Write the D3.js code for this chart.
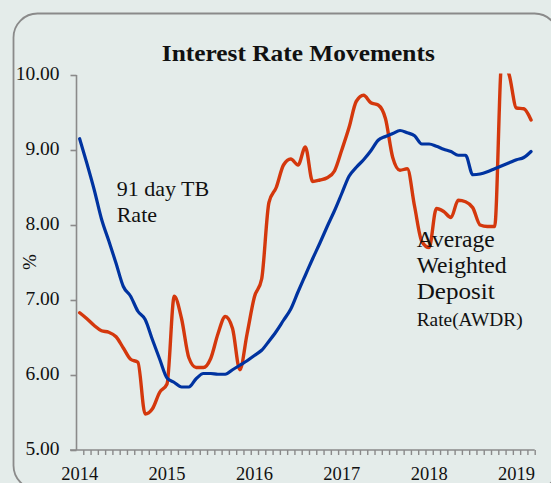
<!DOCTYPE html>
<html>
<head>
<meta charset="utf-8">
<script src="https://cdn.jsdelivr.net/npm/d3@7"></script>
<style>
  html, body { margin: 0; padding: 0; background: #e4ecea; }
  svg { display: block; }
  text { font-family: "Liberation Serif", "Times New Roman", serif; fill: #111; }
</style>
</head>
<body>
<svg id="chart" width="551" height="483"></svg>
<script>
// Monthly categories Jan 2014 .. Mar 2019
const months = [];
for (let y = 2014; y <= 2019; y++) for (let m = 1; m <= 12; m++) {
  if (y === 2019 && m > 3) break;
  months.push(y + "-" + String(m).padStart(2, "0"));
}
const yearLabels = ["2014", "2015", "2016", "2017", "2018", "2019"];
const yTicks = [5, 6, 7, 8, 9, 10];

// 91 day Treasury Bill rate (%)
const tbRate = [
  9.15, 8.82, 8.47, 8.08, 7.79, 7.49, 7.18, 7.05, 6.85, 6.74, 6.47, 6.21,
  5.96, 5.90, 5.84, 5.84, 5.95, 6.02, 6.02, 6.01, 6.01, 6.07, 6.13, 6.19,
  6.26, 6.33, 6.45, 6.58, 6.73, 6.88, 7.11, 7.33, 7.55, 7.76, 7.98, 8.19,
  8.42, 8.65, 8.77, 8.87, 8.99, 9.13, 9.18, 9.22, 9.26, 9.23, 9.19, 9.08,
  9.08, 9.05, 9.01, 8.98, 8.93, 8.93, 8.67, 8.68, 8.71, 8.75, 8.79, 8.83,
  8.87, 8.90, 8.98
];
// Average Weighted Deposit Rate (%)
const awdr = [
  6.83, 6.75, 6.66, 6.59, 6.57, 6.51, 6.36, 6.21, 6.17, 5.48, 5.55, 5.77,
  5.88, 7.05, 6.75, 6.23, 6.10, 6.10, 6.22, 6.55, 6.78, 6.62, 6.07, 6.55,
  7.04, 7.28, 8.30, 8.50, 8.80, 8.88, 8.80, 9.04, 8.58, 8.60, 8.63, 8.72,
  9.00, 9.30, 9.65, 9.73, 9.63, 9.60, 9.42, 8.90, 8.73, 8.75, 8.25, 7.78,
  7.70, 8.22, 8.18, 8.10, 8.33, 8.31, 8.23, 8.00, 7.98, 7.98, 10.20, 10.00,
  9.56, 9.55, 9.40
];

const svg = d3.select("#chart");

// Rounded frame
svg.append("rect")
  .attr("x", 13.5).attr("y", 13.5)
  .attr("width", 545).attr("height", 476)
  .attr("rx", 24).attr("ry", 24)
  .attr("fill", "none").attr("stroke", "#8a8a8a").attr("stroke-width", 1.8);

const x = d3.scaleLinear().domain([0, months.length]).range([76, 534.7]);
const y = d3.scaleLinear().domain([5, 10]).range([450, 75]);

// Title
svg.append("text")
  .attr("x", 298.3).attr("y", 60.7)
  .attr("text-anchor", "middle")
  .attr("font-weight", "bold")
  .attr("font-size", 24)
  .attr("textLength", 273).attr("lengthAdjust", "spacingAndGlyphs")
  .text("Interest Rate Movements");

// Y axis
const yAxis = d3.axisLeft(y).tickValues(yTicks).tickFormat(d3.format(".2f"))
  .tickSize(6).tickPadding(11);
const gy = svg.append("g").attr("transform", "translate(76.5,0)").call(yAxis);
gy.select(".domain").attr("stroke", "#8a8a8a").attr("stroke-width", 1.6)
  .attr("d", `M0,${y(10)}V${y(5)}`);
gy.selectAll(".tick line").attr("stroke", "#8a8a8a").attr("stroke-width", 1.6);
gy.selectAll(".tick text")
  .attr("font-family", "Liberation Serif, serif").attr("font-size", 19.5)
  .attr("fill", "#111").attr("dy", "0.22em");

// Y label
svg.append("text")
  .attr("transform", "translate(36,262) rotate(-90)")
  .attr("text-anchor", "middle")
  .attr("font-size", 19)
  .text("%");

// X axis with monthly ticks at category boundaries
const xAxis = d3.axisBottom(x).tickValues(d3.range(1, months.length + 1))
  .tickSize(5).tickFormat("");
const gx = svg.append("g").attr("transform", "translate(0,450)").call(xAxis);
gx.select(".domain").attr("stroke", "#8a8a8a").attr("stroke-width", 1.6)
  .attr("d", `M70,0H${x(months.length)}`);
gx.selectAll(".tick line").attr("stroke", "#8a8a8a").attr("stroke-width", 1.4);

// Year labels at first month of each year
svg.append("g").selectAll("text")
  .data(yearLabels)
  .join("text")
  .attr("x", d => x(months.indexOf(d + "-01") + 0.5))
  .attr("y", 480)
  .attr("text-anchor", "middle")
  .attr("font-size", 18.5)
  .text(d => d);

// Clip to plot area
svg.append("clipPath").attr("id", "plotclip")
  .append("rect").attr("x", 76).attr("y", 73.5).attr("width", 470).attr("height", 380);

const line = d3.line()
  .x((d, i) => x(i + 0.5))
  .y(d => y(d))
  .curve(d3.curveMonotoneX);

const plot = svg.append("g").attr("clip-path", "url(#plotclip)");
plot.append("path").datum(awdr)
  .attr("d", line).attr("fill", "none")
  .attr("stroke", "#d4380d").attr("stroke-width", 3.4)
  .attr("stroke-linejoin", "round").attr("stroke-linecap", "round");
plot.append("path").datum(tbRate)
  .attr("d", line).attr("fill", "none")
  .attr("stroke", "#0033a0").attr("stroke-width", 3.2)
  .attr("stroke-linejoin", "round").attr("stroke-linecap", "round");

// Annotations
const ann1 = svg.append("text").attr("font-size", 22);
ann1.append("tspan").attr("x", 116.7).attr("y", 196).text("91 day TB");
ann1.append("tspan").attr("x", 116.7).attr("y", 222).text("Rate");

const ann2Lines = [
  { t: "Average", y: 247, len: 78, fs: 22.5 },
  { t: "Weighted", y: 273, len: 90, fs: 22.5 },
  { t: "Deposit", y: 299, len: 78, fs: 22.5 },
  { t: "Rate(AWDR)", y: 326, len: 106, fs: 18.5 }
];
svg.append("g").selectAll("text")
  .data(ann2Lines)
  .join("text")
  .attr("x", 416.7).attr("y", d => d.y)
  .attr("font-size", d => d.fs)
  .attr("textLength", d => d.len).attr("lengthAdjust", "spacingAndGlyphs")
  .text(d => d.t);
</script>
</body>
</html>
